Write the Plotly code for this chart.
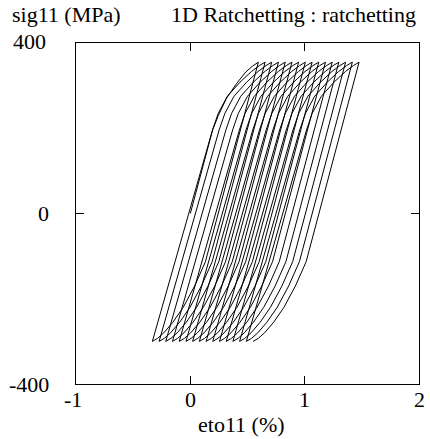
import plotly.graph_objects as go

# Stress levels (MPa) at which each branch is sampled
FIRST_LOAD_STRESS = [0, 196, 230, 270, 305, 332, 346, 355]
FIRST_LOAD_STRAIN = [0.0, 0.195, 0.245, 0.315, 0.405, 0.485, 0.545, 0.595]

UNLOAD_STRESS = [355, -113, -170, -220, -255, -280, -293, -300]
UNLOAD_STRAIN = [
    [0.595, 0.132, 0.038, -0.062, -0.152, -0.232, -0.287, -0.332],
    [0.654, 0.191, 0.097, -0.003, -0.093, -0.173, -0.228, -0.273],
    [0.712, 0.249, 0.155, 0.055, -0.035, -0.115, -0.170, -0.215],
    [0.771, 0.308, 0.214, 0.114, 0.024, -0.056, -0.111, -0.156],
    [0.830, 0.367, 0.273, 0.173, 0.083, 0.003, -0.052, -0.097],
    [0.889, 0.426, 0.332, 0.232, 0.142, 0.062, 0.007, -0.038],
    [0.947, 0.484, 0.390, 0.290, 0.200, 0.120, 0.065, 0.020],
    [1.006, 0.543, 0.449, 0.349, 0.259, 0.179, 0.124, 0.079],
    [1.065, 0.602, 0.508, 0.408, 0.318, 0.238, 0.183, 0.138],
    [1.123, 0.660, 0.566, 0.466, 0.376, 0.296, 0.241, 0.196],
    [1.182, 0.719, 0.625, 0.525, 0.435, 0.355, 0.300, 0.255],
    [1.241, 0.778, 0.684, 0.584, 0.494, 0.414, 0.359, 0.314],
    [1.299, 0.836, 0.742, 0.642, 0.552, 0.472, 0.417, 0.372],
    [1.358, 0.895, 0.801, 0.701, 0.611, 0.531, 0.476, 0.431],
    [1.417, 0.954, 0.860, 0.760, 0.670, 0.590, 0.535, 0.490],
    [1.476, 1.013, 0.919, 0.819, 0.729, 0.649, 0.594, 0.549],
]

LOAD_STRESS = [-300, 196, 235, 275, 308, 333, 347, 355]
LOAD_STRAIN = [
    [-0.332, 0.194, 0.244, 0.324, 0.434, 0.534, 0.604, 0.654],
    [-0.273, 0.252, 0.302, 0.382, 0.492, 0.592, 0.662, 0.712],
    [-0.215, 0.311, 0.361, 0.441, 0.551, 0.651, 0.721, 0.771],
    [-0.156, 0.370, 0.420, 0.500, 0.610, 0.710, 0.780, 0.830],
    [-0.097, 0.429, 0.479, 0.559, 0.669, 0.769, 0.839, 0.889],
    [-0.038, 0.487, 0.537, 0.617, 0.727, 0.827, 0.897, 0.947],
    [0.020, 0.546, 0.596, 0.676, 0.786, 0.886, 0.956, 1.006],
    [0.079, 0.605, 0.655, 0.735, 0.845, 0.945, 1.015, 1.065],
    [0.138, 0.663, 0.713, 0.793, 0.903, 1.003, 1.073, 1.123],
    [0.196, 0.722, 0.772, 0.852, 0.962, 1.062, 1.132, 1.182],
    [0.255, 0.781, 0.831, 0.911, 1.021, 1.121, 1.191, 1.241],
    [0.314, 0.839, 0.889, 0.969, 1.079, 1.179, 1.249, 1.299],
    [0.372, 0.898, 0.948, 1.028, 1.138, 1.238, 1.308, 1.358],
    [0.431, 0.957, 1.007, 1.087, 1.197, 1.297, 1.367, 1.417],
    [0.490, 1.016, 1.066, 1.146, 1.256, 1.356, 1.426, 1.476],
]

X_TICKS = [-1, 0, 1, 2]
X_TICK_TEXT = ["-1", "0", "1", "2"]
Y_TICKS = [-400, 0, 400]
Y_TICK_TEXT = ["-400", "0", "400"]

# Build the continuous path: first loading, then alternating unload / reload
px, py = list(FIRST_LOAD_STRAIN), list(FIRST_LOAD_STRESS)
for i in range(len(UNLOAD_STRAIN)):
    px += UNLOAD_STRAIN[i][1:]
    py += UNLOAD_STRESS[1:]
    if i < len(LOAD_STRAIN):
        px += LOAD_STRAIN[i][1:]
        py += LOAD_STRESS[1:]

FONT = "Liberation Serif"
FS = 22
W, H = 430, 439
L, R, T, B = 76, 11, 43, 55
PW, PH = W - L - R, H - T - B


def paper_x(pix):
    return (pix - L) / PW


def paper_y(pix):
    return (H - B - pix) / PH


fig = go.Figure()
fig.add_trace(go.Scatter(x=px, y=py, mode="lines",
                         line=dict(color="black", width=1), hoverinfo="skip"))

fig.update_layout(
    width=W, height=H,
    margin=dict(l=L, r=R, t=T, b=B),
    paper_bgcolor="white", plot_bgcolor="white",
    showlegend=False,
    font=dict(family=FONT, size=FS, color="black"),
)
fig.update_xaxes(
    range=[-1, 2], tickvals=X_TICKS, showticklabels=False,
    ticks="inside", ticklen=8, tickcolor="black", mirror="ticks",
    showline=True, linecolor="black", linewidth=1,
    showgrid=False, zeroline=False,
)
fig.update_yaxes(
    range=[-400, 400], tickvals=Y_TICKS, showticklabels=False,
    ticks="inside", ticklen=8, tickcolor="black", mirror="ticks",
    showline=True, linecolor="black", linewidth=1,
    showgrid=False, zeroline=False,
)

for v, t in zip(X_TICKS, X_TICK_TEXT):
    fig.add_annotation(x=v, xref="x", y=paper_y(399), yref="paper",
                       xshift=-3 if t == "-1" else 0,
                       text=t, showarrow=False, xanchor="center", yanchor="middle",
                       font=dict(family=FONT, size=FS, color="black"))

label_x = {"-400": 29, "0": 43, "400": 29}
label_shift = {"-400": 0, "0": 0, "400": 2}
for v, t in zip(Y_TICKS, Y_TICK_TEXT):
    fig.add_annotation(x=paper_x(label_x[t]), xref="paper", y=v, yref="y",
                       yshift=label_shift[t],
                       text=t, showarrow=False, xanchor="center", yanchor="middle",
                       font=dict(family=FONT, size=FS, color="black"))

fig.add_annotation(x=paper_x(66), y=paper_y(14), xref="paper", yref="paper",
                   text="sig11 (MPa)", showarrow=False, xanchor="center", yanchor="middle",
                   font=dict(family=FONT, size=FS, color="black"))
fig.add_annotation(x=paper_x(418), y=paper_y(14), xref="paper", yref="paper",
                   text="1D Ratchetting : ratchetting", showarrow=False,
                   xanchor="right", yanchor="middle",
                   font=dict(family=FONT, size=FS, color="black"))
fig.add_annotation(x=paper_x(241), y=paper_y(425), xref="paper", yref="paper",
                   text="eto11 (%)", showarrow=False, xanchor="center", yanchor="middle",
                   font=dict(family=FONT, size=FS, color="black"))

fig.write_html("out.html")
